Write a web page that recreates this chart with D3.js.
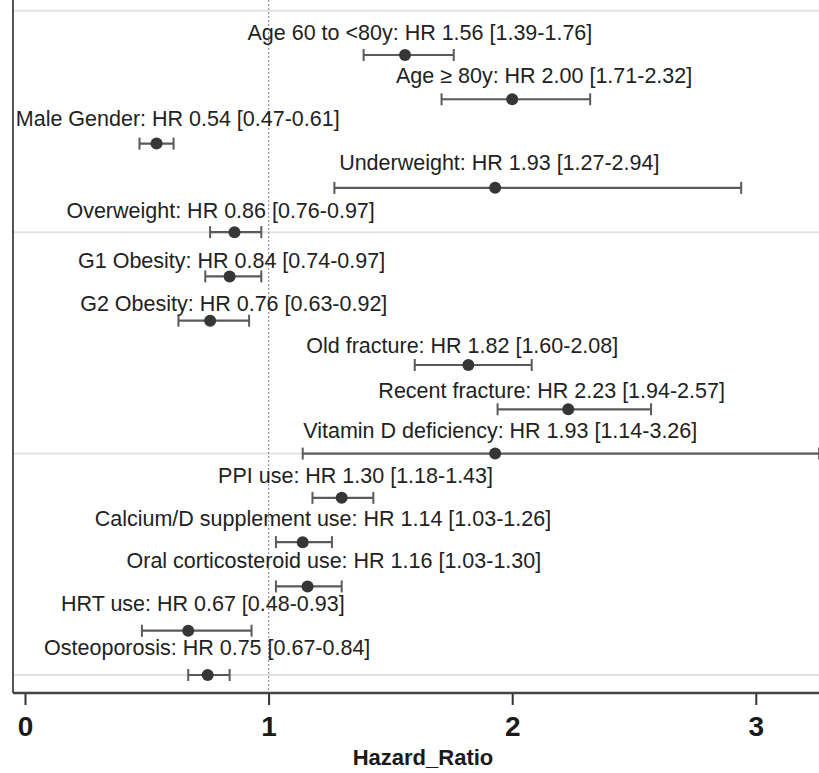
<!DOCTYPE html>
<html>
<head>
<meta charset="utf-8">
<script src="https://cdn.jsdelivr.net/npm/d3@7/dist/d3.min.js"></script>
<style>
  html, body { margin: 0; padding: 0; background: #fff; }
  svg { display: block; font-family: "Liberation Sans", Arial, Helvetica, sans-serif; }
</style>
</head>
<body>
<svg id="chart" width="819" height="773"></svg>
<script>
// ---- data ----
const categories = [
  "Age 60 to <80y", "Age \u2265 80y", "Male Gender", "Underweight", "Overweight",
  "G1 Obesity", "G2 Obesity", "Old fracture", "Recent fracture", "Vitamin D deficiency",
  "PPI use", "Calcium/D supplement use", "Oral corticosteroid use", "HRT use", "Osteoporosis"
];
const hr    = [1.56, 2.00, 0.54, 1.93, 0.86, 0.84, 0.76, 1.82, 2.23, 1.93, 1.30, 1.14, 1.16, 0.67, 0.75];
const lower = [1.39, 1.71, 0.47, 1.27, 0.76, 0.74, 0.63, 1.60, 1.94, 1.14, 1.18, 1.03, 1.03, 0.48, 0.67];
const upper = [1.76, 2.32, 0.61, 2.94, 0.97, 0.97, 0.92, 2.08, 2.57, 3.26, 1.43, 1.26, 1.30, 0.93, 0.84];
const rows  = [1, 2, 3, 4, 5, 6, 7, 8, 9, 10, 11, 12, 13, 14, 15];
const xTicks = [0, 1, 2, 3];
const gridRows = [0, 5, 10, 15];
// label anchors (in data units: HR for centre, row for vertical)
const labelHR  = [1.621, 2.131, 0.627, 1.947, 0.803, 0.848, 0.857, 1.795, 2.162, 1.951, 1.357, 1.223, 1.268, 0.730, 0.748];
const labelRow = [0.48, 1.45, 2.42, 3.42, 4.50, 5.63, 6.60, 7.55, 8.56, 9.47, 10.48, 11.45, 12.40, 13.37, 14.37];
const xTitle = "Hazard_Ratio";

// ---- layout ----
const svg = d3.select("#chart");
const plotLeft = 13, plotRight = 822, plotTop = 0, axisY = 693;
const x = d3.scaleLinear().domain([0, 3]).range([25, 755.8]);
const y = d3.scaleLinear().domain([0, 15]).range([10.7, 675]);
const fmt = d3.format(".2f");

// gridlines
svg.append("g").selectAll("line").data(gridRows).join("line")
  .attr("x1", plotLeft).attr("x2", plotRight)
  .attr("y1", d => y(d)).attr("y2", d => y(d))
  .attr("stroke", "#e3e3e3").attr("stroke-width", 2);

// reference line at HR = 1
svg.append("line")
  .attr("x1", x(1)).attr("x2", x(1))
  .attr("y1", plotTop).attr("y2", axisY)
  .attr("stroke", "#9a9a9a").attr("stroke-width", 1.2)
  .attr("stroke-dasharray", "2,2");

// left border
svg.append("line")
  .attr("x1", plotLeft).attr("x2", plotLeft)
  .attr("y1", plotTop).attr("y2", axisY)
  .attr("stroke", "#555").attr("stroke-width", 2);

// x axis
const xAxis = d3.axisBottom(x).tickValues(xTicks).tickSize(12).tickPadding(8).tickFormat(d3.format("d"));
const gx = svg.append("g").attr("transform", `translate(0,${axisY})`).call(xAxis);
gx.select(".domain").remove();
gx.append("line").attr("x1", plotLeft).attr("x2", plotRight).attr("y1", 0).attr("y2", 0)
  .attr("stroke", "#444").attr("stroke-width", 2.5);
gx.selectAll(".tick line").attr("stroke", "#333").attr("stroke-width", 2);
gx.selectAll(".tick text")
  .attr("fill", "#1a1a1a")
  .attr("font-size", 28).attr("font-weight", "bold")
  .attr("font-family", "'Liberation Sans', Arial, sans-serif")
  .attr("dy", null).attr("y", 43);

svg.append("text")
  .attr("x", 423).attr("y", 765)
  .attr("text-anchor", "middle")
  .attr("font-size", 22).attr("font-weight", "bold")
  .attr("fill", "#1a1a1a")
  .text(xTitle);

// error bars
const idx = d3.range(categories.length);
const g = svg.append("g");
g.selectAll("line.ci").data(idx).join("line").attr("class", "ci")
  .attr("x1", i => x(lower[i])).attr("x2", i => x(upper[i]))
  .attr("y1", i => y(rows[i])).attr("y2", i => y(rows[i]))
  .attr("stroke", "#5a5a5a").attr("stroke-width", 2.2);
const capH = 6;
["lo", "hi"].forEach(k => {
  g.selectAll("line.cap" + k).data(idx).join("line").attr("class", "cap" + k)
    .attr("x1", i => x(k === "lo" ? lower[i] : upper[i]))
    .attr("x2", i => x(k === "lo" ? lower[i] : upper[i]))
    .attr("y1", i => y(rows[i]) - capH).attr("y2", i => y(rows[i]) + capH)
    .attr("stroke", "#5a5a5a").attr("stroke-width", 2);
});
g.selectAll("circle").data(idx).join("circle")
  .attr("cx", i => x(hr[i])).attr("cy", i => y(rows[i]))
  .attr("r", 6).attr("fill", "#363636");

// labels
svg.append("g").selectAll("text").data(idx).join("text")
  .attr("x", i => x(labelHR[i]))
  .attr("y", i => y(labelRow[i]))
  .attr("dy", "0.36em")
  .attr("text-anchor", "middle")
  .attr("font-size", 21.5)
  .attr("fill", "#222")
  .text(i => `${categories[i]}: HR ${fmt(hr[i])} [${fmt(lower[i])}-${fmt(upper[i])}]`);
</script>
</body>
</html>
